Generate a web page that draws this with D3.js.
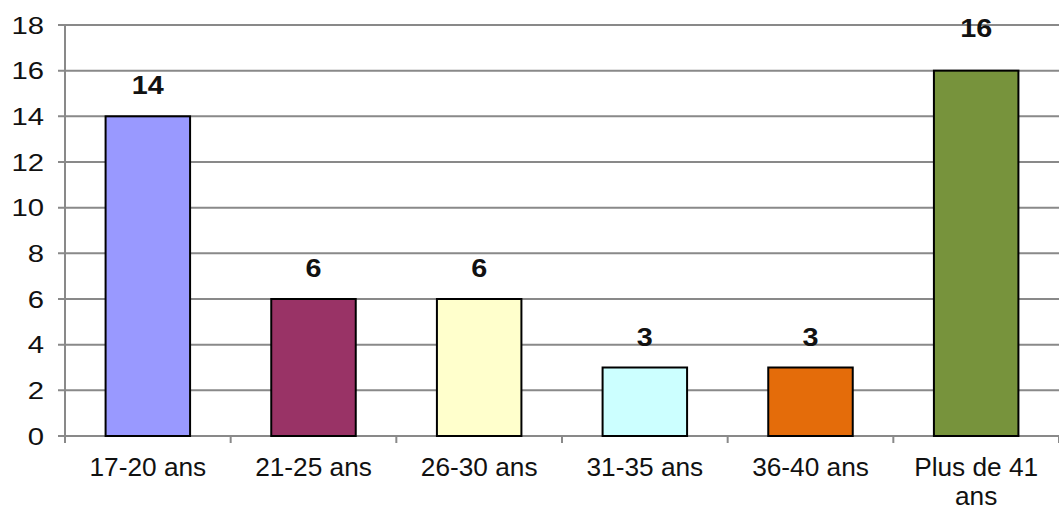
<!DOCTYPE html>
<html>
<head>
<meta charset="utf-8">
<script src="https://cdn.jsdelivr.net/npm/d3@7/dist/d3.min.js"></script>
<style>
html,body{margin:0;padding:0;background:#fff;}
svg{display:block;font-family:"Liberation Sans",Arial,sans-serif;}
</style>
</head>
<body>
<svg id="chart" width="1059" height="511"></svg>
<script>
const categories = ["17-20 ans","21-25 ans","26-30 ans","31-35 ans","36-40 ans","Plus de 41|ans"];
const values = [14, 6, 6, 3, 3, 16];
const colors = ["#9999FF","#993366","#FFFFCC","#CCFFFF","#E46C0A","#77933C"];
const yTicks = [0,2,4,6,8,10,12,14,16,18];

(function() {
const svg = d3.select("#chart");
const pLeft = 65, pRight = 1059, pTop = 25, pBottom = 436;

const x = d3.scaleBand().domain(categories).range([pLeft, pRight]).padding(0);
const y = d3.scaleLinear().domain([0, 18]).range([pBottom, pTop]);

// gridlines
svg.append("g").selectAll("line").data(yTicks).join("line")
  .attr("x1", pLeft - 7).attr("x2", pRight)
  .attr("y1", d => y(d)).attr("y2", d => y(d))
  .attr("stroke", "#898989").attr("stroke-width", 2);

// y axis line
svg.append("line").attr("x1", pLeft).attr("x2", pLeft).attr("y1", pTop).attr("y2", pBottom + 1)
  .attr("stroke", "#898989").attr("stroke-width", 2);

// y tick labels
svg.append("g").selectAll("text").data(yTicks).join("text")
  .attr("transform", d => `translate(44,${y(d)}) scale(1.22,1)`)
  .attr("dy", "0.36em")
  .attr("text-anchor", "end").attr("font-size", 24).attr("fill", "#111")
  .text(d => d);

// x ticks
const bounds = categories.map(c => x(c)).concat([pRight]);
svg.append("g").selectAll("line").data(bounds).join("line")
  .attr("x1", d => d).attr("x2", d => d).attr("y1", pBottom).attr("y2", pBottom + 7)
  .attr("stroke", "#898989").attr("stroke-width", 2);

// bars
const bw = x.bandwidth() * 0.51;
svg.append("g").selectAll("rect").data(values).join("rect")
  .attr("x", (d, i) => x(categories[i]) + x.bandwidth() / 2 - bw / 2)
  .attr("width", bw)
  .attr("y", d => y(d))
  .attr("height", d => y(0) - y(d))
  .attr("fill", (d, i) => colors[i])
  .attr("stroke", "#000").attr("stroke-width", 2);

// value labels
const maxV = d3.max(values);
svg.append("g").selectAll("text").data(values).join("text")
  .attr("transform", (d, i) => `translate(${x(categories[i]) + x.bandwidth() / 2},${y(d) - (d === maxV ? 34 : 22)}) scale(1.15,1)`)
  .attr("text-anchor", "middle").attr("font-size", 25).attr("font-weight", "bold").attr("fill", "#111")
  .text(d => d);

// x labels
const xl = svg.append("g").selectAll("text").data(categories).join("text")
  .attr("transform", d => `translate(${x(d) + x.bandwidth() / 2},476) scale(1.05,1)`)
  .attr("text-anchor", "middle").attr("font-size", 25).attr("fill", "#111");
xl.each(function(d) {
  const parts = d.split("|");
  const t = d3.select(this);
  parts.forEach((p, k) => {
    t.append("tspan").attr("x", 0).attr("dy", k === 0 ? 0 : 29).text(p);
  });
});
})();
</script>
</body>
</html>
